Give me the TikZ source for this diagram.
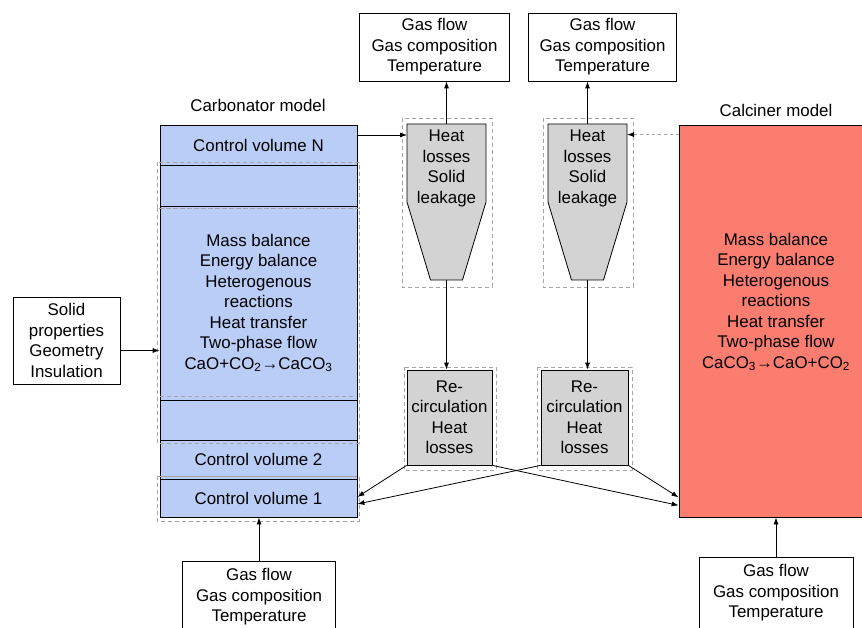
\documentclass[tikz,border=0pt]{standalone}
\usepackage{fontspec}
\setmainfont{Liberation Sans}
\usetikzlibrary{arrows.meta}
\definecolor{carbBlue}{RGB}{185,205,247}
\definecolor{calcRed}{RGB}{250,125,112}
\definecolor{cycGray}{RGB}{211,211,211}
\definecolor{groupGray}{RGB}{165,165,165}

\begin{document}
\begin{tikzpicture}[x=1pt, y=-1pt,
	font=\fontsize{16.9}{20.5}\selectfont,
	box/.style={draw, line width=0.8pt, align=center, inner sep=0pt},
	cv/.style={box, fill=carbBlue, minimum width=197, minimum height=#1},
	gasbox/.style={box, minimum width=#1, minimum height=68},
	recirc/.style={box, fill=cycGray, minimum height=95},
	group/.style={groupGray, dashed, dash pattern=on 4pt off 3pt, line width=0.5pt},
	arrow/.style={-{Latex[length=7pt,width=5pt,color=black]}, line width=0.8pt}
]
\clip (0,0) rectangle (862,628);

% Carbonator
\node (carbLabel) at (258,105) {Carbonator model};
\node[cv=40] (cvN) at (258.5,145) {Control volume N};
\node[cv=41] (cvE1) at (258.5,185.5) {};
\node[cv=194] (cvMid) at (258.5,303) {Mass balance\\Energy balance\\Heterogenous\\reactions\\Heat transfer\\Two-phase flow\\CaO+CO\textsubscript{2}→CaCO\textsubscript{3}};
\node[cv=40] (cvE2) at (258.5,420) {};
\node[cv=39] (cv2) at (258.5,459.5) {Control volume 2};
\node[cv=38] (cv1) at (258.5,498) {Control volume 1};

\draw[group] (157,162) rectangle (359,208);
\draw[group] (157,208) rectangle (359,443);
\draw[group] (160,396) -- (357,396);
\draw[group] (160,476) -- (357,476);
\draw[group] (157,476) rectangle (359,521);

% Calciner
\node (calcLabel) at (776,110) {Calciner model};
\node[box, fill=calcRed, minimum width=197, minimum height=392] (calc) at (777.5,321) {};
\node[align=center] (calcText) at (776,302) {Mass balance\\Energy balance\\Heterogenous\\reactions\\Heat transfer\\Two-phase flow\\CaCO\textsubscript{3}→CaO+CO\textsubscript{2}};

% Cyclones
\foreach \n/\x in {1/446.5, 2/587.5}{
	\draw[group] (\x-44.5,118) rectangle (\x+45.5,287);
	\draw[line width=0.8pt, fill=cycGray] (\x-39.5,124) -- (\x+39.5,124) -- (\x+39.5,202)
		-- (\x+16,280) -- (\x-16,280) -- (\x-39.5,202) -- cycle;
	\node[align=center] (cyc\n) at (\x,168.5) {Heat\\losses\\Solid\\leakage};
	\coordinate (cycT\n) at (\x,124);
	\coordinate (cycB\n) at (\x,280);
	\coordinate (cycW\n) at (\x-39.5,163);
	\coordinate (cycE\n) at (\x+39.5,163);
}

% Recirculation
\node[recirc, minimum width=85] (recirc1) at (449.5,417.5) {Re-\\circulation\\Heat\\losses};
\node[recirc, minimum width=87] (recirc2) at (584.5,417.5) {Re-\\circulation\\Heat\\losses};
\draw[group] (404,367) rectangle (496,470);
\draw[group] (537,367) rectangle (632,470);

% Gas in/out
\node[gasbox=150] (gasTop1) at (434.5,47) {Gas flow\\Gas composition\\Temperature};
\node[gasbox=148] (gasTop2) at (602.5,47) {Gas flow\\Gas composition\\Temperature};
\node[box, minimum width=153, minimum height=72] (gasCarb) at (259,597) {Gas flow\\Gas composition\\Temperature};
\node[box, minimum width=154, minimum height=72] (gasCalc) at (776,593) {Gas flow\\Gas composition\\Temperature};
\node[box, minimum width=107, minimum height=87] (solid) at (66.5,340.5) {Solid\\properties\\Geometry\\Insulation};

% Connectors
\draw[arrow] ([yshift=10pt]cvN.east) -- ([yshift=10pt]cvN.east -| cycW1);
\draw[arrow, groupGray, dashed] ([yshift=-10pt]calc.north west) -- ([yshift=-10pt]calc.north west -| cycE2);
\draw[arrow] (cycT1) -- (cycT1 |- gasTop1.south);
\draw[arrow] (cycT2) -- (cycT2 |- gasTop2.south);
\draw[arrow] (cycB1) -- (cycB1 |- recirc1.north);
\draw[arrow] (cycB2) -- (cycB2 |- recirc2.north);
\draw[arrow] (recirc1.south west) -- ([yshift=1pt]cv1.east);
\draw[arrow] (recirc2.south west) -- ([yshift=-6pt]cv1.east);
\draw[arrow] (recirc1.south east) -- ([yshift=12pt]calc.south west);
\draw[arrow] (recirc2.south east) -- ([yshift=20pt]calc.south west);
\draw[arrow] ([yshift=-10pt]solid.east) -- ([yshift=-10pt]solid.east -| cvMid.west);
\draw[arrow] (gasCarb.north) -- (gasCarb.north |- cv1.south);
\draw[arrow] (gasCalc.north) -- (gasCalc.north |- calc.south);
\end{tikzpicture}
\end{document}
